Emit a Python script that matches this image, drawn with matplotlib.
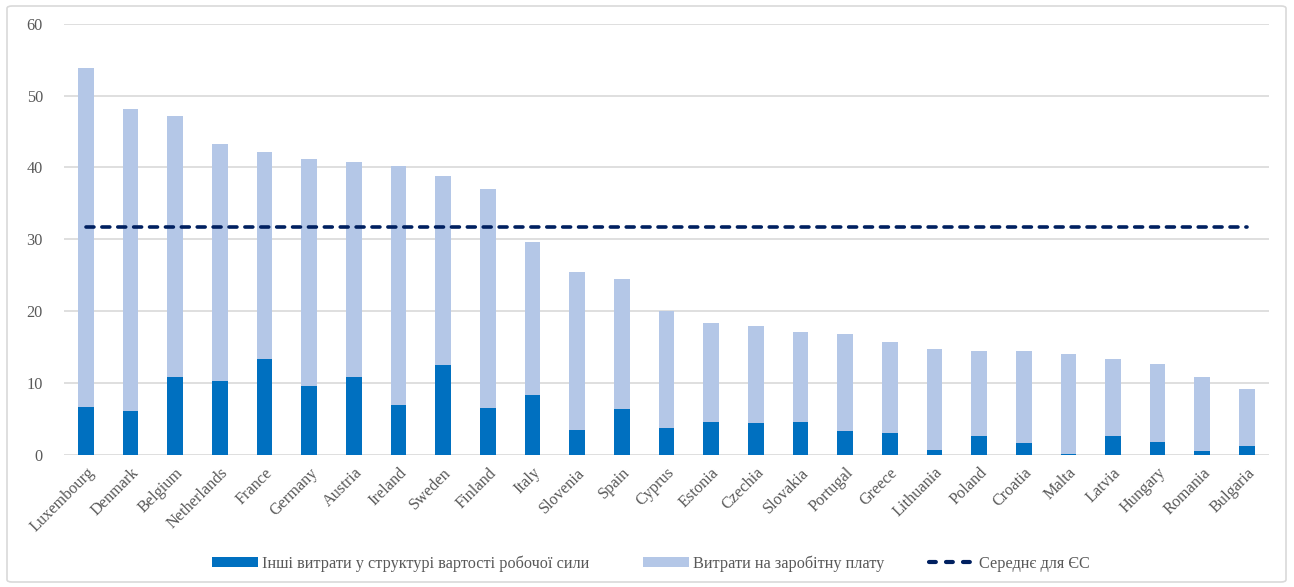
import matplotlib
matplotlib.use("Agg")
import matplotlib.pyplot as plt
from matplotlib.patches import FancyBboxPatch, Patch
from matplotlib.lines import Line2D
import numpy as np

countries = ["Luxembourg", "Denmark", "Belgium", "Netherlands", "France", "Germany",
             "Austria", "Ireland", "Sweden", "Finland", "Italy", "Slovenia", "Spain",
             "Cyprus", "Estonia", "Czechia", "Slovakia", "Portugal", "Greece",
             "Lithuania", "Poland", "Croatia", "Malta", "Latvia", "Hungary",
             "Romania", "Bulgaria"]

# Total hourly labour cost and its non-wage component (EUR)
total_cost = [53.9, 48.1, 47.1, 43.2, 42.1, 41.2, 40.8, 40.2, 38.8, 37.0, 29.7,
              25.4, 24.5, 20.0, 18.3, 18.0, 17.1, 16.9, 15.7, 14.7, 14.5, 14.4,
              14.1, 13.4, 12.7, 10.9, 9.2]
other_cost = [6.7, 6.1, 10.8, 10.3, 13.4, 9.6, 10.9, 6.9, 12.5, 6.6, 8.3, 3.5,
              6.4, 3.8, 4.6, 4.4, 4.6, 3.3, 3.1, 0.7, 2.6, 1.6, 0.2, 2.7, 1.8,
              0.6, 1.2]
wage_cost = [t - o for t, o in zip(total_cost, other_cost)]
eu_average = 31.7

labels = ["Інші витрати у структурі вартості робочої сили",
          "Витрати на заробітну плату",
          "Середнє для ЄС"]

c_other = "#0070C0"
c_wage = "#B4C7E7"
c_avg = "#002060"
grid_c = "#D9D9D9"
text_c = "#595959"
fs = 11.7

plt.rcParams["font.family"] = ["Liberation Serif", "DejaVu Serif"]

fig = plt.figure(figsize=(12.94, 5.87), dpi=100)
ax = fig.add_axes([0.0492, 0.2249, 0.9317, 0.7347])

x = np.arange(len(countries))
w = 0.35
ax.bar(x, other_cost, width=w, color=c_other, zorder=3)
ax.bar(x, wage_cost, width=w, bottom=other_cost, color=c_wage, zorder=3)
ax.plot(x, [eu_average] * len(x), color=c_avg, lw=2.6, dashes=(2.2, 2.2),
        dash_capstyle="round", zorder=4)

ax.set_xlim(-0.5, len(countries) - 0.5)
ax.set_ylim(0, 60)
ax.set_yticks(range(0, 61, 10))
ax.set_xticks(x)
ax.set_xticklabels(countries, rotation=45, ha="right", rotation_mode="anchor")
ax.tick_params(axis="both", length=0, labelsize=fs, labelcolor=text_c)
ax.tick_params(axis="y", pad=15)
ax.tick_params(axis="x", pad=7)
ax.yaxis.grid(True, color=grid_c, lw=1.2, zorder=0)
for s in ax.spines.values():
    s.set_visible(False)

# legend entries placed along the bottom
handles = [Patch(facecolor=c_other), Patch(facecolor=c_wage),
           Line2D([], [], color=c_avg, lw=3.0, dashes=(1.64, 2.44),
                  dash_capstyle="round")]
lx = [212 / 1294, 643 / 1294, 929 / 1294]
for h, lab, xx in zip(handles, labels, lx):
    fig.legend([h], [lab], loc="center left", bbox_to_anchor=(xx, 0.040),
               frameon=False, fontsize=fs, handlelength=2.8, handleheight=0.55,
               handletextpad=0.3, borderpad=0, borderaxespad=0,
               labelcolor=text_c)

# chart frame
frame = FancyBboxPatch((7 / 1294, 5 / 587), 1279 / 1294, 576 / 587,
                       boxstyle="round,pad=0,rounding_size=0.004",
                       transform=fig.transFigure, fill=False,
                       edgecolor=grid_c, lw=1.2)
fig.patches.append(frame)

fig.savefig("out.png", dpi=100)
